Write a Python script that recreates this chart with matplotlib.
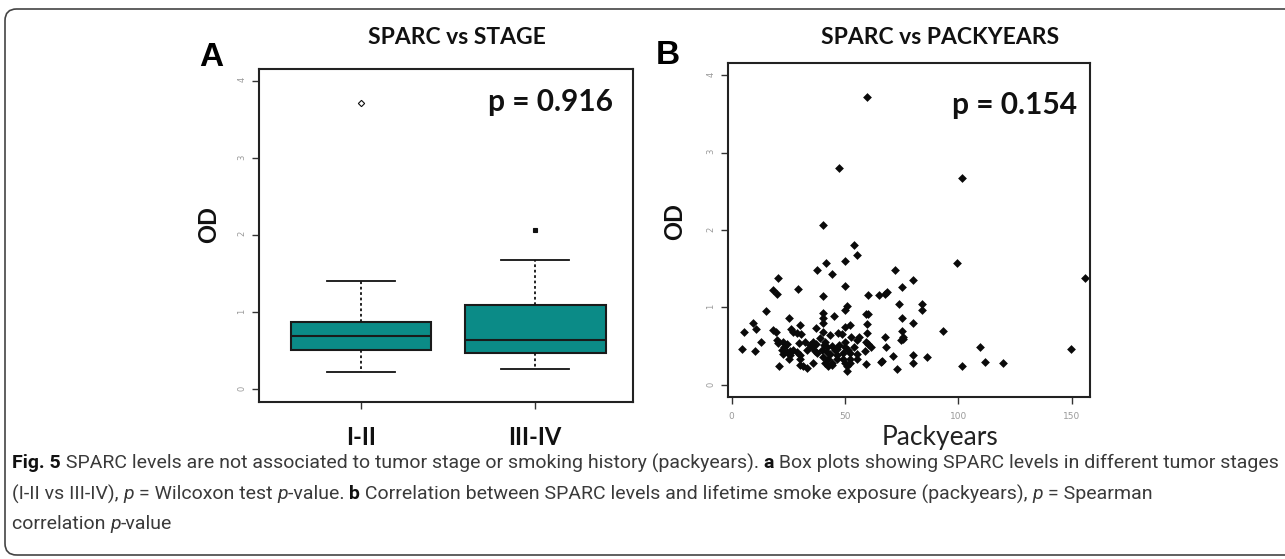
import numpy as np
import matplotlib
matplotlib.use('Agg')
import matplotlib.pyplot as plt
from matplotlib.patches import FancyBboxPatch

# Panel A: box plot summary (OD) per tumour stage
stage_labels = ['I-II', 'III-IV']
box_q1 = [0.51, 0.47]
box_med = [0.68, 0.64]
box_q3 = [0.865, 1.09]
whisk_lo = [0.225, 0.26]
whisk_hi = [1.40, 1.67]
outliers = [[3.71], [2.06]]

# Panel B: packyears vs OD
pack_x = [59.9, 47.2, 101.8, 40.1, 54.0, 55.3, 41.6, 50.0, 99.4, 37.5, 72.1, 44.3, 20.3, 79.9,
          50.0, 75.0, 29.1, 18.4, 20.1, 68.5, 67.8, 65.1, 40.1, 60.0, 74.0, 83.8, 83.8, 51.0,
          50.0, 15.1, 40.1, 59.3, 60.1, 45.1, 25.4, 40.1, 75.0, 9.3, 30.1, 79.9, 59.9, 52.2,
          50.0, 40.1, 37.2, 10.7, 18.1, 26.2, 27.2, 19.6, 93.4, 75.0, 5.4, 28.7, 30.4, 40.4,
          47.1, 48.8, 59.9, 43.4, 67.6, 75.7, 75.4, 74.6, 52.6, 56.3, 55.1, 19.9, 12.8, 22.8,
          32.4, 35.7, 39.0, 50.0, 59.3, 60.3, 24.3, 20.3, 29.9, 34.6, 37.2, 40.7, 41.9, 44.1,
          46.6, 50.0, 53.9, 61.3, 68.1, 109.6, 4.4, 10.3, 22.1, 25.7, 28.7, 33.1, 36.8, 39.7,
          41.9, 45.6, 58.8, 149.6, 37.5, 43.4, 49.3, 52.2, 55.1, 22.5, 25.7, 30.1, 79.9, 71.3,
          86.0, 30.1, 40.4, 46.3, 49.3, 52.2, 55.1, 36.0, 41.2, 44.1, 50.0, 52.2, 59.3, 66.2,
          65.7, 79.9, 111.8, 119.9, 21.0, 30.1, 31.6, 33.1, 42.6, 44.1, 72.8, 101.8, 51.0, 50.7,
          25.4, 24.3, 41.2, 35.3, 47.4, 51.5, 46.3, 42.6, 27.2, 23.2, 156.0]
pack_y = [3.72, 2.80, 2.67, 2.06, 1.80, 1.68, 1.57, 1.60, 1.58, 1.48, 1.48, 1.43, 1.38, 1.35,
          1.28, 1.27, 1.24, 1.22, 1.18, 1.20, 1.17, 1.16, 1.15, 1.16, 1.04, 1.05, 0.97, 1.02,
          0.97, 0.95, 0.93, 0.92, 0.91, 0.89, 0.86, 0.86, 0.86, 0.80, 0.77, 0.80, 0.79, 0.77,
          0.75, 0.80, 0.74, 0.72, 0.71, 0.72, 0.69, 0.69, 0.70, 0.70, 0.68, 0.67, 0.66, 0.68,
          0.67, 0.66, 0.67, 0.65, 0.62, 0.62, 0.59, 0.58, 0.62, 0.62, 0.58, 0.58, 0.56, 0.56,
          0.56, 0.56, 0.60, 0.55, 0.56, 0.53, 0.53, 0.54, 0.54, 0.52, 0.53, 0.52, 0.49, 0.50,
          0.47, 0.49, 0.49, 0.49, 0.49, 0.49, 0.47, 0.44, 0.45, 0.44, 0.43, 0.45, 0.44, 0.45,
          0.43, 0.45, 0.44, 0.46, 0.41, 0.40, 0.41, 0.41, 0.40, 0.40, 0.39, 0.39, 0.39, 0.37,
          0.36, 0.34, 0.36, 0.34, 0.34, 0.34, 0.34, 0.29, 0.29, 0.28, 0.29, 0.28, 0.27, 0.31,
          0.30, 0.29, 0.30, 0.28, 0.25, 0.26, 0.24, 0.22, 0.24, 0.26, 0.20, 0.24, 0.18, 0.25,
          0.34, 0.43, 0.56, 0.49, 0.52, 0.45, 0.39, 0.34, 0.45, 0.49, 1.38]
pack_ticks = [0, 50, 100, 150]
od_ticks = [0, 1, 2, 3, 4]

W, H = 1285, 559
fig = plt.figure(figsize=(W / 100, H / 100), dpi=100)

def fx(px):
    return px / W

def fy(py):
    return 1 - py / H

head_font = ['Lato', 'DejaVu Sans']
cap_font = ['Roboto', 'DejaVu Sans']
teal = '#0b8b87'
tick_grey = '#9a9a9a'

# outer rounded frame
frame = FancyBboxPatch((fx(5), fy(555)), 1.2, (555 - 9) / H, transform=fig.transFigure,
                       boxstyle='round,pad=0,rounding_size=0.009', mutation_aspect=W / H,
                       fill=False, ec='#444444', lw=1.2)
fig.patches.append(frame)

# ---- panel A ----
axA = fig.add_axes([fx(259), fy(402), (633 - 259) / W, (402 - 69) / H])
stats = []
for i in range(len(stage_labels)):
    stats.append(dict(q1=box_q1[i], med=box_med[i], q3=box_q3[i], whislo=whisk_lo[i],
                      whishi=whisk_hi[i], fliers=outliers[i], label=stage_labels[i]))
res = axA.bxp(stats, positions=[1, 2], widths=0.81, capwidths=0.39, patch_artist=True,
              boxprops=dict(facecolor=teal, edgecolor='#1a1a1a', lw=1.5),
              medianprops=dict(color='#1a1a1a', lw=1.5),
              whiskerprops=dict(color='#111111', lw=1.3, ls=(0, (1.5, 1.5))),
              capprops=dict(color='#111111', lw=1.3),
              flierprops=dict(marker='D', ms=3.2, mfc='none', mec='#111111', mew=0.8))
res['fliers'][1].set_markerfacecolor('#111111')
res['fliers'][1].set_marker('s')
res['fliers'][1].set_markersize(2.5)
axA.set_xlim(0.414, 2.563)
axA.set_ylim(-0.17, 4.15)
axA.set_yticks(od_ticks)
axA.tick_params(axis='y', direction='out', length=5, width=1, color='#333333',
                labelsize=6, labelcolor=tick_grey, labelrotation=90, pad=4)
axA.tick_params(axis='x', direction='out', length=5, width=1, color='#333333',
                labelsize=17, labelcolor='#111111', pad=12.5)
for lab in axA.get_xticklabels():
    lab.set_fontweight('bold')
    lab.set_family(head_font)
for sp in axA.spines.values():
    sp.set_linewidth(1.5)
    sp.set_color('#222222')

# ---- panel B ----
axB = fig.add_axes([fx(728), fy(397), (1090 - 728) / W, (397 - 63) / H])
axB.scatter(pack_x, pack_y, marker='D', s=20, c='#0a0a0a', lw=0)
axB.set_xlim(-1.63, 158.1)
axB.set_ylim(-0.155, 4.155)
axB.set_xticks(pack_ticks)
axB.set_yticks(od_ticks)
axB.tick_params(axis='y', direction='out', length=5, width=1, color='#333333',
                labelsize=6, labelcolor=tick_grey, labelrotation=90, pad=4)
axB.tick_params(axis='x', direction='out', length=5, width=1, color='#333333',
                labelsize=6.5, labelcolor=tick_grey, pad=6)
for sp in axB.spines.values():
    sp.set_linewidth(1.5)
    sp.set_color('#222222')

# ---- headings and labels ----
fig.text(fx(211), fy(57), 'A', ha='center', va='center', fontsize=24, fontweight='bold',
         family='Liberation Sans')
fig.text(fx(668), fy(55), 'B', ha='center', va='center', fontsize=24, fontweight='bold',
         family='Liberation Sans')
fig.text(fx(457), fy(38), 'SPARC vs STAGE', ha='center', va='center', fontsize=16.5,
         fontweight='bold', family=head_font, color='#111111')
fig.text(fx(940), fy(38), 'SPARC vs PACKYEARS', ha='center', va='center', fontsize=16.5,
         fontweight='bold', family=head_font, color='#111111')
fig.text(fx(488), fy(102), 'p = 0.916', ha='left', va='center', fontsize=21.5,
         fontweight='bold', family=head_font, color='#111111')
fig.text(fx(952), fy(105), 'p = 0.154', ha='left', va='center', fontsize=21.5,
         fontweight='bold', family=head_font, color='#111111')
fig.text(fx(209), fy(225), 'OD', ha='center', va='center', rotation=90, fontsize=17,
         fontweight='bold', family=head_font, color='#111111')
fig.text(fx(675), fy(222), 'OD', ha='center', va='center', rotation=90, fontsize=17,
         fontweight='bold', family=head_font, color='#111111')
fig.text(fx(940), fy(438), 'Packyears', ha='center', va='center', fontsize=19,
         family=head_font, color='#222222')

# ---- caption with mixed styles ----
cap_lines = [
    [('Fig. 5', 'b'), (' SPARC levels are not associated to tumor stage or smoking history (packyears). ', 'n'),
     ('a', 'b'), (' Box plots showing SPARC levels in different tumor stages', 'n')],
    [('(I-II vs III-IV), ', 'n'), ('p', 'i'), (' = Wilcoxon test ', 'n'), ('p', 'i'), ('-value. ', 'n'),
     ('b', 'b'), (' Correlation between SPARC levels and lifetime smoke exposure (packyears), ', 'n'),
     ('p', 'i'), (' = Spearman', 'n')],
    [('correlation ', 'n'), ('p', 'i'), ('-value', 'n')],
]
cap_y = [463, 494, 524]
renderer = fig.canvas.get_renderer()

def seg_props(style, size):
    return dict(fontsize=size, family=cap_font,
                fontweight='bold' if style == 'b' else 'normal',
                fontstyle='italic' if style == 'i' else 'normal',
                color='#111111' if style == 'b' else '#3a3a3a')

def draw_line(segs, x0, y, size, keep=True):
    x = x0
    for s, style in segs:
        s = s.replace(' ', '\u00a0')
        t = fig.text(fx(x), fy(y), s, ha='left', va='center', **seg_props(style, size))
        # advance measured against a bar so trailing spaces count
        bar = fig.text(0, 0, '|', **seg_props(style, size))
        both = fig.text(0, 0, s + '|', **seg_props(style, size))
        adv = both.get_window_extent(renderer).width - bar.get_window_extent(renderer).width
        bar.remove()
        both.remove()
        if not keep:
            t.remove()
        x += adv
    return x

w10 = draw_line(cap_lines[0], 0, 0, 10, keep=False)
cap_size = 10 * (1275 - 12) / w10
for segs, y in zip(cap_lines, cap_y):
    draw_line(segs, 12, y, cap_size)

fig.savefig('out.png', dpi=100)
